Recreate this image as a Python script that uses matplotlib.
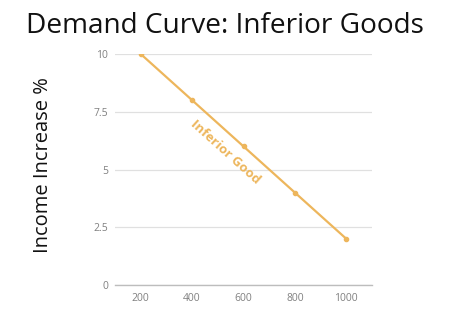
import matplotlib
matplotlib.use("Agg")
import matplotlib.pyplot as plt

income = [200, 400, 600, 800, 1000]
increase = [10, 8, 6, 4, 2]
yticks = [0, 2.5, 5, 7.5, 10]
ytick_labels = ["0", "2.5", "5", "7.5", "10"]
series_label = "Inferior Good"
title = "Demand Curve: Inferior Goods"
ylabel = "Income Increase %"

color = "#EDB65C"
fig = plt.figure(figsize=(4.5, 3.1), dpi=100)
ax = fig.add_axes([0.2556, 0.0806, 0.5711, 0.7452])
ax.plot(income, increase, color=color, lw=1.6, marker="o", ms=3, zorder=3)
ax.set_xlim(100, 1100)
ax.set_ylim(0, 10)
ax.set_xticks(income)
ax.set_yticks(yticks)
ax.set_yticklabels(ytick_labels)
for s in ax.spines.values():
    s.set_visible(False)
ax.grid(axis="y", color="#e0e0e0", lw=0.9)
ax.set_axisbelow(True)
ax.axhline(0, color="#bdbdbd", lw=1, clip_on=False)
ax.tick_params(axis="y", length=0, labelsize=7.5, labelcolor="#808080", pad=5)
ax.tick_params(axis="x", length=0, labelsize=7.5, labelcolor="#808080", pad=6)
for lab in ax.get_xticklabels() + ax.get_yticklabels():
    lab.set_family("Open Sans")
ax.text(530, 5.75, series_label, rotation=-42, color=color, fontsize=9.5, fontweight="bold",
        family="Open Sans", ha="center", va="center", rotation_mode="anchor")
fig.text(0.5, 0.915, title, ha="center", va="center", fontsize=20.2, family="Open Sans", color="#111111")
fig.text(0.096, 0.468, ylabel, ha="center", va="center", rotation=90, fontsize=14.5, family="Open Sans", color="#111111")
fig.savefig("out.png", dpi=100)
